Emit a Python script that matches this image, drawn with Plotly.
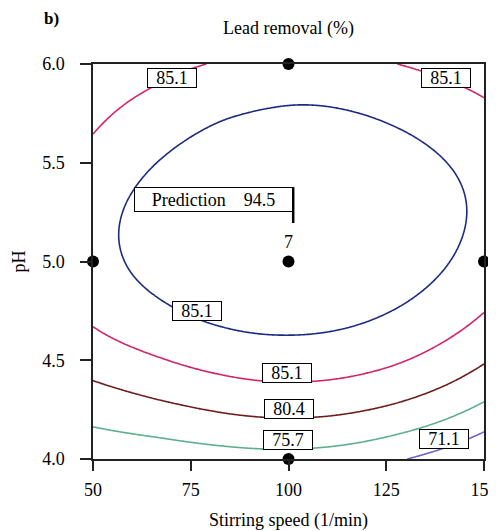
import numpy as np
import plotly.graph_objects as go

# ---- data ----
speed_range = [50, 150]          # stirring speed (1/min)
ph_range = [4.0, 6.0]
contour_levels = [89.8, 85.1, 80.4, 75.7, 71.1]
contour_colors = ["#1c2a82", "#d3236c", "#6e1c1c", "#5cb08c", "#6d62c9"]

# points (speed, pH)
blue_speed = [102.9, 82.5, 73.0, 62.8, 58.2, 56.6, 59.5, 66.4, 77.4, 90.2, 100.0,
              113.2, 126.0, 136.2, 143.1, 145.7, 144.6, 140.5, 132.9, 121.6, 108.8]
blue_ph = [5.803, 5.742, 5.605, 5.423, 5.286, 5.134, 4.947, 4.830, 4.694, 4.638, 4.636,
           5.777, 5.691, 5.575, 5.438, 5.286, 5.134, 4.967, 4.830, 4.714, 4.643]
magenta_top_speed = [50, 51.8, 65.3, 87.6, 126, 142.1, 149.7]
magenta_top_ph = [5.64, 5.676, 5.843, 6.0, 6.0, 5.878, 5.81]
magenta_bot_speed = [50, 56.1, 67.0, 84.1, 92.6, 108.0, 126.7, 138.0, 143.8, 150]
magenta_bot_ph = [4.660, 4.60, 4.527, 4.425, 4.391, 4.391, 4.467, 4.58, 4.645, 4.744]
brown_speed = [50, 67.0, 84.1, 92.6, 109.7, 126.7, 143.8, 150]
brown_ph = [4.391, 4.290, 4.223, 4.206, 4.211, 4.273, 4.40, 4.49]
teal_speed = [50, 67.0, 84.1, 92.6, 108.0, 126.7, 143.8, 150]
teal_ph = [4.197, 4.122, 4.071, 4.054, 4.059, 4.122, 4.231, 4.295]
purple_speed = [129.3, 150]
purple_ph = [4.004, 4.138]
# estimated response at a few other spots (between drawn contours)
extra_speed = [50, 150, 100, 50, 150, 101, 50, 150]
extra_ph = [6.0, 6.0, 6.0, 4.0, 4.0, 5.22, 5.15, 5.27]
extra_val = [82.8, 83.3, 86.8, 73.4, 66.5, 94.5, 88.4, 89.0]

design_speed = [100, 50, 100, 150, 100]
design_ph = [6.0, 5.0, 5.0, 5.0, 4.0]
center_replicates = "7"
prediction_value = 94.5
x_ticks = [50, 75, 100, 125, 150]
y_ticks = [4.0, 4.5, 5.0, 5.5, 6.0]
label_texts = ["85.1", "85.1", "85.1", "85.1", "80.4", "75.7", "71.1"]
label_x = [70.2, 140.3, 76.6, 99.6, 100.1, 99.8, 139.8]
label_y = [5.929, 5.93, 4.749, 4.435, 4.253, 4.096, 4.101]

FONT = "Liberation Serif"

# ---- smooth response surface through the read contour points ----
pts_x, pts_y, pts_v, pts_w = [], [], [], []
for sx, sy, lv, w in [(blue_speed, blue_ph, 89.8, 2.0),
                      (magenta_top_speed, magenta_top_ph, 85.1, 1.0),
                      (magenta_bot_speed, magenta_bot_ph, 85.1, 1.0),
                      (brown_speed, brown_ph, 80.4, 1.0),
                      (teal_speed, teal_ph, 75.7, 1.0),
                      (purple_speed, purple_ph, 71.1, 1.0)]:
    pts_x += list(sx); pts_y += list(sy); pts_v += [lv] * len(sx); pts_w += [w] * len(sx)
pts_x += extra_speed; pts_y += extra_ph; pts_v += extra_val; pts_w += [0.7] * len(extra_val)
pts_x = np.array(pts_x, float); pts_y = np.array(pts_y, float)
pts_v = np.array(pts_v, float); pts_w = np.array(pts_w, float)

powers = [(i, j) for i in range(4) for j in range(5) if i + j <= 5]


def coded(sp, ph):
    return (np.asarray(sp, float) - 100) / 50, np.asarray(ph, float) - 5


def basis(sp, ph):
    a, b = coded(sp, ph)
    return np.stack([a ** i * b ** j for i, j in powers], axis=-1)


# 1) weighted polynomial trend
M = basis(pts_x, pts_y) * pts_w[:, None]
coef = np.linalg.solve(M.T @ M + 1e-3 * np.eye(M.shape[1]), M.T @ (pts_v * pts_w))
resid = pts_v - basis(pts_x, pts_y) @ coef

# 2) strongly smoothed thin-plate spline correction of the residuals
pa, pb = coded(pts_x, pts_y)


def tps_kernel(r):
    with np.errstate(divide="ignore", invalid="ignore"):
        k = r ** 2 * np.log(r)
    return np.where(r > 0, k, 0.0)


n = len(pa)
K = tps_kernel(np.hypot(pa[:, None] - pa[None, :], pb[:, None] - pb[None, :]))
P = np.stack([np.ones(n), pa, pb], axis=1)
Sys = np.zeros((n + 3, n + 3))
Sys[:n, :n] = K + 0.2 * np.eye(n)
Sys[:n, n:] = P
Sys[n:, :n] = P.T
sol = np.linalg.solve(Sys, np.concatenate([resid, np.zeros(3)]))
tw, tc = sol[:n], sol[n:]

xs = np.linspace(speed_range[0], speed_range[1], 241)
ys = np.linspace(ph_range[0], ph_range[1], 241)
X, Y = np.meshgrid(xs, ys)
GA, GB = coded(X, Y)
Z = basis(X, Y) @ coef
R = np.hypot(GA[..., None] - pa, GB[..., None] - pb)
Z = Z + tps_kernel(R) @ tw + tc[0] + tc[1] * GA + tc[2] * GB

fig = go.Figure()
for lvl, col in zip(contour_levels, contour_colors):
    fig.add_trace(go.Contour(
        x=xs, y=ys, z=Z,
        contours=dict(start=lvl, end=lvl, size=1, coloring="none", showlabels=False),
        line=dict(color=col, width=1.6),
        showscale=False, hoverinfo="skip",
    ))

fig.add_trace(go.Scatter(
    x=design_speed, y=design_ph, mode="markers",
    marker=dict(color="black", size=12),
    cliponaxis=False, showlegend=False, hoverinfo="skip",
))

annotations = []
for t, lx, ly in zip(label_texts, label_x, label_y):
    annotations.append(dict(
        x=lx, y=ly, xref="x", yref="y", text=t, showarrow=False,
        font=dict(family=FONT, size=18, color="black"),
        bgcolor="white", bordercolor="black", borderwidth=1,
        width=48, height=18, borderpad=0,
    ))

annotations.append(dict(
    x=101.2, y=5.314, xref="x", yref="y", xanchor="right", yanchor="middle",
    text="Prediction\u00a0\u00a0\u00a0\u00a0" + f"{prediction_value:.1f}",
    showarrow=False, font=dict(family=FONT, size=18, color="black"),
    bgcolor="white", bordercolor="black", borderwidth=1,
    width=157, height=23, borderpad=0,
))
annotations.append(dict(
    x=100, y=5.0, xref="x", yref="y", text=center_replicates, showarrow=False,
    yshift=20, font=dict(family=FONT, size=18, color="black"),
))
annotations.append(dict(
    x=-0.107, y=1.116, xref="paper", yref="paper", xanchor="center", yanchor="middle",
    text="<b>b)</b>", showarrow=False,
    font=dict(family=FONT, size=17, color="black"),
))

fig.add_shape(type="line", xref="x", yref="y", x0=101.2, x1=101.2, y0=5.195, y1=5.377,
              line=dict(color="black", width=2.5))

# the page body has an 8px margin, so the figure is 8px smaller and shifted accordingly
FIG_W, FIG_H = 488, 523

fig.update_layout(
    width=FIG_W, height=FIG_H,
    margin=dict(l=85, r=12, t=56, b=72, autoexpand=False),
    paper_bgcolor="white", plot_bgcolor="white",
    showlegend=False,
    font=dict(family=FONT, size=18, color="black"),
    title=dict(text="Lead removal (%)", x=0.5, xref="paper", y=1 - 20 / FIG_H, yanchor="middle",
               font=dict(family=FONT, size=18, color="black")),
    annotations=annotations,
    xaxis=dict(range=speed_range, tickvals=x_ticks, ticks="outside", ticklen=10,
               tickwidth=1.5, tickcolor="#222", showline=True, linecolor="#222", linewidth=1.5,
               mirror=True, showgrid=False, zeroline=False, automargin=False,
               ticklabeloverflow="allow",
               title=dict(text="Stirring speed (1/min)", standoff=14,
                          font=dict(family=FONT, size=18)),
               tickfont=dict(family=FONT, size=18), ticklabelstandoff=4),
    yaxis=dict(range=ph_range, tickvals=y_ticks, ticktext=[f"{v:.1f}" for v in y_ticks],
               ticks="outside", ticklen=11, tickwidth=1.5, tickcolor="#222",
               showline=True, linecolor="#222", linewidth=1.5, mirror=True,
               showgrid=False, zeroline=False, automargin=False,
               ticklabeloverflow="allow",
               title=dict(text="pH", standoff=12, font=dict(family=FONT, size=18)),
               tickfont=dict(family=FONT, size=18), ticklabelstandoff=12),
)

fig.write_html("out.html")
